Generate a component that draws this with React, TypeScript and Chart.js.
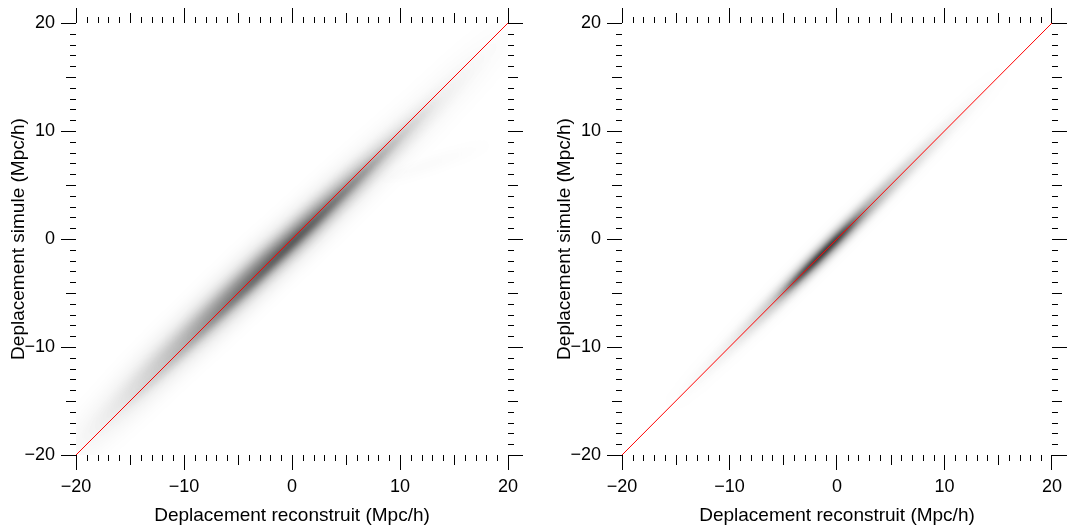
import React, { useEffect, useRef } from 'react';
import { Chart, registerables } from 'chart.js';

Chart.register(...registerables);

// ---------- axes ----------
const axisMin = -20;
const axisMax = 20;
const majorStep = 10;
const mediumStep = 5;
const minorStep = 1;
const xAxisTitle = 'Deplacement reconstruit (Mpc/h)';
const yAxisTitle = 'Deplacement simule (Mpc/h)';

// ---------- reference line y = x ----------
const identityX = [-20, 20];
const identityY = [-20, 20];

// ---------- left panel: density of the 2D histogram, read along its ridge ----------
const leftRidgeX = [-20, -18, -16, -14, -12, -10, -8, -6, -4, -2, 0, 2, 4, 6, 8, 10, 12, 14, 16, 18, 20];
const leftRidgeY = [-19.4, -17.4, -15.4, -13.4, -11.4, -9.5, -7.6, -5.7, -3.8, -1.9, -0.1, 1.8, 3.7, 5.6, 7.5, 9.4, 11.3, 13.3, 15.3, 17.3, 19.3];
const leftHaloDensity = [0.03, 0.05, 0.08, 0.11, 0.14, 0.17, 0.2, 0.22, 0.22, 0.22, 0.2, 0.18, 0.15, 0.12, 0.09, 0.07, 0.05, 0.04, 0.03, 0.02, 0.01];
const leftBodyDensity = [0, 0.02, 0.04, 0.08, 0.14, 0.22, 0.32, 0.42, 0.5, 0.55, 0.56, 0.5, 0.4, 0.3, 0.2, 0.13, 0.08, 0.04, 0.02, 0.01, 0];

const leftCoreX = [-16, -14, -12, -10, -8, -6, -4, -2, 0, 2, 4, 6, 8, 10, 12, 14];
const leftCoreY = [-16.2, -14.2, -12.3, -10.3, -8.3, -6.3, -4.4, -2.4, -0.4, 1.5, 3.5, 5.5, 7.5, 9.5, 11.5, 13.5];
const leftCoreDensity = [0, 0.05, 0.08, 0.12, 0.18, 0.25, 0.32, 0.4, 0.45, 0.42, 0.35, 0.28, 0.2, 0.12, 0.06, 0];

const leftStreakX = [7, 10, 13, 16, 19];
const leftStreakY = [5.0, 6.0, 7.0, 8.0, 9.0];
const leftStreakDensity = [0, 0.03, 0.035, 0.02, 0];

// ---------- right panel ----------
const rightRidgeX = [-16, -14, -12, -10, -8, -6, -4, -2, 0, 2, 4, 6, 8, 10, 12, 14, 16];
const rightRidgeY = [-16, -14, -12, -10, -8, -6, -4, -2, 0, 2, 4, 6, 8, 10, 12, 14, 16];
const rightHaloDensity = [0, 0.01, 0.02, 0.03, 0.05, 0.07, 0.09, 0.1, 0.1, 0.09, 0.07, 0.05, 0.04, 0.03, 0.02, 0.01, 0];
const rightBodyDensity = [0, 0.01, 0.03, 0.06, 0.12, 0.22, 0.4, 0.6, 0.6, 0.45, 0.3, 0.2, 0.12, 0.06, 0.03, 0.01, 0];

const rightCoreX = [-6, -5, -4, -3, -2, -1, 0, 1, 2, 3];
const rightCoreY = [-6, -5, -4, -3, -2, -1, 0, 1, 2, 3];
const rightCoreDensity = [0, 0.15, 0.45, 0.6, 0.65, 0.65, 0.6, 0.45, 0.2, 0];

// ---------- styling ----------
const FONT = "'Liberation Sans', Arial, Helvetica, sans-serif";
const MAJOR_LEN = 15;
const MEDIUM_LEN = 10;
const MINOR_LEN = 6;
const CANVAS_W = 534;
const CANVAS_H = 529;

// stroke width and blur (in axis units) used to render each band
type Band = { x: number[]; y: number[]; density: number[]; width: number; blur: number; order: number };

const fmt = (v: any) => (Number(v) < 0 ? '\u2212' + Math.abs(Number(v)) : String(v));

function pxPerUnit(chart: any) {
  const xs = chart.scales.x;
  if (!xs) return 10;
  return Math.abs(xs.getPixelForValue(1) - xs.getPixelForValue(0));
}

function bandDataset(b: Band) {
  return {
    data: b.x.map((x, i) => ({ x, y: b.y[i] })),
    showLine: true,
    pointRadius: 0,
    pointHoverRadius: 0,
    borderCapStyle: 'round',
    borderJoinStyle: 'round',
    tension: 0,
    clip: 0,
    order: b.order,
    blurUnits: b.blur,
    borderWidth: (ctx: any) => b.width * pxPerUnit(ctx.chart),
    borderColor: (ctx: any) => {
      const chart = ctx.chart;
      const xs = chart.scales.x;
      const ys = chart.scales.y;
      if (!xs || !ys || !chart.chartArea) return 'rgba(0,0,0,0)';
      const px = b.x.map((v) => xs.getPixelForValue(v));
      const py = b.y.map((v) => ys.getPixelForValue(v));
      const n = px.length - 1;
      const vx = px[n] - px[0];
      const vy = py[n] - py[0];
      const L2 = vx * vx + vy * vy || 1;
      const g = chart.ctx.createLinearGradient(px[0], py[0], px[n], py[n]);
      b.x.forEach((_, i) => {
        const t = ((px[i] - px[0]) * vx + (py[i] - py[0]) * vy) / L2;
        g.addColorStop(Math.min(1, Math.max(0, t)), `rgba(0,0,0,${b.density[i]})`);
      });
      return g;
    },
  };
}

const blurPlugin = {
  id: 'bandBlur',
  beforeDatasetDraw(chart: any, args: any) {
    const ds = chart.data.datasets[args.index];
    if (ds && ds.blurUnits) chart.ctx.filter = `blur(${(ds.blurUnits * pxPerUnit(chart)).toFixed(2)}px)`;
  },
  afterDatasetDraw(chart: any) {
    chart.ctx.filter = 'none';
  },
};

const minorTickPlugin = {
  id: 'minorTicks',
  afterDraw(chart: any) {
    const { ctx, chartArea } = chart;
    const xs = chart.scales.x;
    const ys = chart.scales.y;
    ctx.save();
    ctx.strokeStyle = '#000';
    ctx.lineWidth = 1;
    ctx.beginPath();
    for (let v = axisMin; v <= axisMax; v += minorStep) {
      if (v % majorStep === 0) continue;
      const len = v % mediumStep === 0 ? MEDIUM_LEN : MINOR_LEN;
      const px = Math.round(xs.getPixelForValue(v)) + 0.5;
      const py = Math.round(ys.getPixelForValue(v)) + 0.5;
      ctx.moveTo(px, chartArea.bottom);
      ctx.lineTo(px, chartArea.bottom + len);
      ctx.moveTo(px, chartArea.top);
      ctx.lineTo(px, chartArea.top - len);
      ctx.moveTo(chartArea.left, py);
      ctx.lineTo(chartArea.left - len, py);
      ctx.moveTo(chartArea.right, py);
      ctx.lineTo(chartArea.right + len, py);
    }
    ctx.stroke();
    ctx.restore();
  },
};

function axis(position: string, showLabels: boolean, size: number, title?: string, titlePad?: any) {
  const horizontal = position === 'top' || position === 'bottom';
  return {
    type: 'linear',
    position,
    min: axisMin,
    max: axisMax,
    border: { display: false },
    grid: {
      drawOnChartArea: false,
      drawTicks: true,
      tickLength: MAJOR_LEN,
      color: '#000',
      tickColor: '#000',
      lineWidth: 1,
      tickWidth: 1,
    },
    ticks: {
      display: showLabels,
      stepSize: majorStep,
      autoSkip: false,
      maxRotation: 0,
      padding: 6,
      color: '#000',
      font: { family: FONT, size: 18 },
      callback: fmt,
    },
    title: {
      display: !!title,
      text: title || '',
      color: '#000',
      font: { family: FONT, size: 19 },
      padding: titlePad || 0,
    },
    afterFit: (s: any) => {
      if (horizontal) s.height = size;
      else s.width = size;
    },
  };
}

type PanelProps = { bands: Band[]; leftWidth: number; rightWidth: number; yTitlePad: number };

function Panel({ bands, leftWidth, rightWidth, yTitlePad }: PanelProps) {
  const ref = useRef<HTMLCanvasElement>(null);
  useEffect(() => {
    const datasets: any[] = [
      {
        data: identityX.map((x, i) => ({ x, y: identityY[i] })),
        showLine: true,
        pointRadius: 0,
        borderColor: '#ff0000',
        borderWidth: 1,
        order: 0,
      },
      ...bands.map(bandDataset),
    ];
    const chart = new Chart(ref.current as HTMLCanvasElement, {
      type: 'scatter',
      data: { datasets },
      options: {
        responsive: false,
        animation: false,
        events: [],
        layout: { padding: 0 },
        plugins: { legend: { display: false }, tooltip: { enabled: false }, title: { display: false } },
        scales: {
          x: axis('bottom', true, CANVAS_H - 455, xAxisTitle, { top: 0, bottom: 2 }),
          y: axis('left', true, leftWidth, yAxisTitle, { top: yTitlePad, bottom: 0 }),
          x2: axis('top', false, 23),
          y2: axis('right', false, rightWidth),
        },
      } as any,
      plugins: [blurPlugin, minorTickPlugin],
    } as any);
    return () => chart.destroy();
  }, []);
  return <canvas ref={ref} width={CANVAS_W} height={CANVAS_H} style={{ display: 'block' }} />;
}

const leftBands: Band[] = [
  { x: leftStreakX, y: leftStreakY, density: leftStreakDensity, width: 0.6, blur: 0.5, order: 5 },
  { x: leftRidgeX, y: leftRidgeY, density: leftHaloDensity, width: 2.6, blur: 1.0, order: 4 },
  { x: leftRidgeX, y: leftRidgeY, density: leftBodyDensity, width: 1.4, blur: 0.6, order: 3 },
  { x: leftCoreX, y: leftCoreY, density: leftCoreDensity, width: 0.5, blur: 0.3, order: 2 },
];
const rightBands: Band[] = [
  { x: rightRidgeX, y: rightRidgeY, density: rightHaloDensity, width: 1.4, blur: 0.6, order: 4 },
  { x: rightRidgeX, y: rightRidgeY, density: rightBodyDensity, width: 0.9, blur: 0.4, order: 3 },
  { x: rightCoreX, y: rightCoreY, density: rightCoreDensity, width: 0.45, blur: 0.22, order: 2 },
];

export default function App() {
  return (
    <div style={{ position: 'fixed', left: 0, top: 0, width: 1068, height: 529, background: '#fff', overflow: 'hidden' }}>
      <div style={{ position: 'absolute', left: 0, top: 0 }}>
        <Panel bands={leftBands} leftWidth={76} rightWidth={CANVAS_W - 508} yTitlePad={7} />
      </div>
      <div style={{ position: 'absolute', left: CANVAS_W, top: 0 }}>
        <Panel bands={rightBands} leftWidth={88} rightWidth={CANVAS_W - 520} yTitlePad={19} />
      </div>
    </div>
  );
}
